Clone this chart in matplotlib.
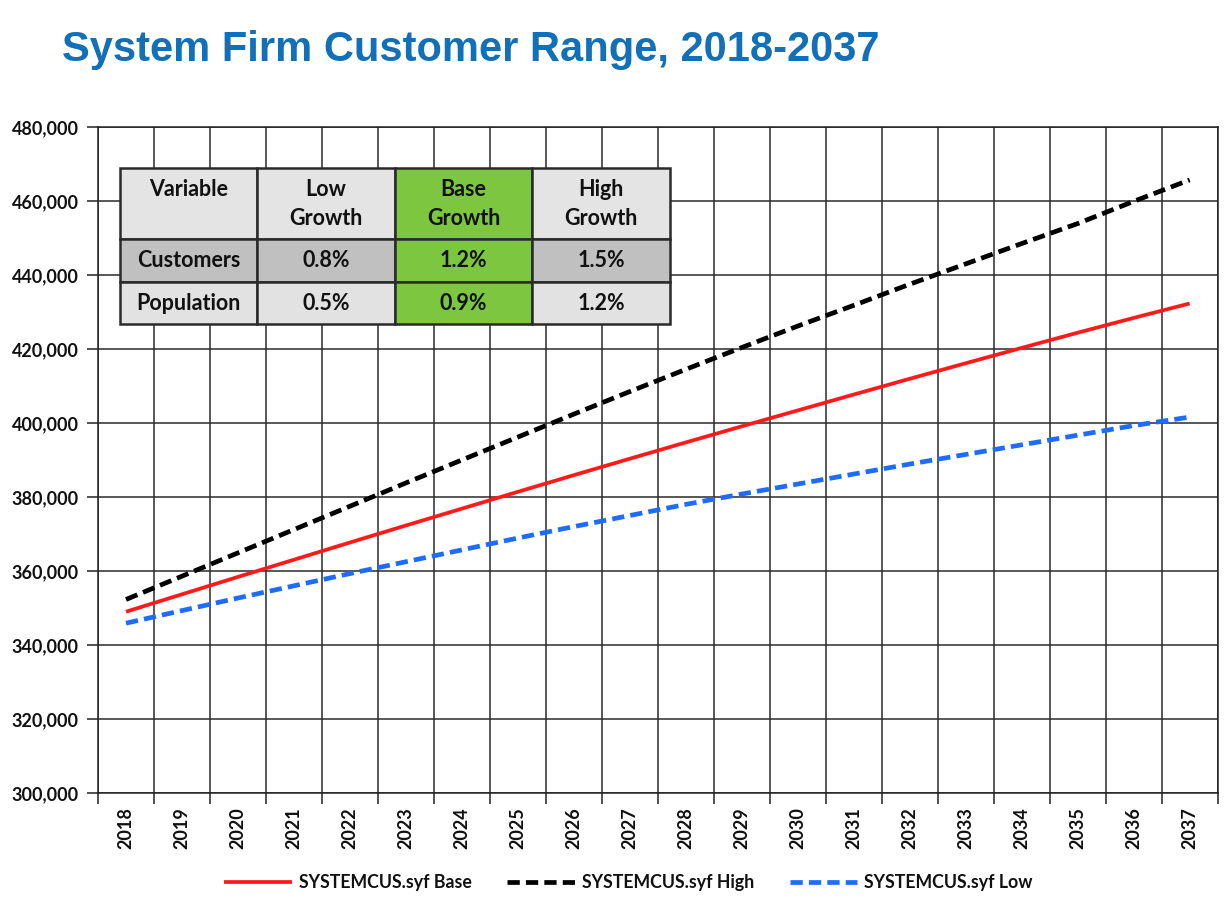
#!/usr/bin/env python3
"""System firm customer range chart, 2018-2037."""

import matplotlib
matplotlib.use("Agg")
import matplotlib.pyplot as plt
from matplotlib.ticker import FuncFormatter, MultipleLocator

years = list(range(2018, 2038))

# customers per year
base = [349000, 353700, 358400, 363050, 367700, 372300, 376850, 381400,
        385900, 390350, 394750, 399100, 403400, 407700, 411950, 416150,
        420300, 424400, 428400, 432300]
high = [352300, 358600, 364900, 371200, 377500, 383800, 390000, 396200,
        402400, 408500, 414500, 420400, 426200, 431800, 437500, 443000,
        448500, 453900, 459900, 465700]
low = [345900, 349300, 352700, 356000, 359300, 362500, 365700, 368900,
       372000, 375000, 378000, 380800, 383500, 386200, 388900, 391500,
       394100, 396700, 399300, 401600]

series_names = ["SYSTEMCUS.syf Base", "SYSTEMCUS.syf High", "SYSTEMCUS.syf Low"]

table_header = ["Variable\n", "Low\nGrowth", "Base\nGrowth", "High\nGrowth"]
table_rows = [
    ["Customers", "0.8%", "1.2%", "1.5%"],
    ["Population", "0.5%", "0.9%", "1.2%"],
]

TXT = "Lato"


def plot_range(image_name="out.png"):
    fig = plt.figure(figsize=(12.25, 9.09), dpi=100)
    ax = fig.add_axes([0.080, 0.1276, 0.914, 0.7327])

    x = list(range(len(years)))
    ax.plot(x, base, color="#ff1a1a", lw=2.7, solid_capstyle="butt",
            label=series_names[0], zorder=4)
    ax.plot(x, high, color="black", lw=3.4, dashes=(2.6, 1.3),
            label=series_names[1], zorder=4)
    ax.plot(x, low, color="#1e6cff", lw=3.4, dashes=(2.6, 1.3),
            label=series_names[2], zorder=4)

    ax.set_xlim(-0.5, len(years) - 0.5)
    ax.set_ylim(300000, 480000)
    ax.yaxis.set_major_locator(MultipleLocator(20000))
    ax.yaxis.set_major_formatter(FuncFormatter(lambda v, p: f"{int(v):,}"))

    ax.set_xticks(x)
    ax.set_xticklabels([str(y) for y in years], rotation=90)
    ax.set_xticks([i - 0.5 for i in range(len(years) + 1)], minor=True)
    ax.tick_params(axis="x", which="major", length=0, pad=10)
    ax.tick_params(axis="x", which="minor", length=8, width=1.1, color="#222222")
    ax.tick_params(axis="y", length=8, width=1.1, color="#222222", pad=6)
    for lab in ax.get_xticklabels() + ax.get_yticklabels():
        lab.set_fontfamily(TXT)
        lab.set_fontweight("bold")
        lab.set_fontsize(13)
        lab.set_color("#111111")

    ax.grid(True, axis="y", which="major", color="#2a2a2a", lw=1.1)
    ax.grid(True, axis="x", which="minor", color="#2a2a2a", lw=1.1)
    ax.grid(False, axis="x", which="major")
    ax.set_axisbelow(True)
    for s in ax.spines.values():
        s.set_color("#222222")
        s.set_linewidth(1.1)

    # growth assumptions table
    green = "#7dc63f"
    colours = [
        ["#e4e4e4", "#e4e4e4", green, "#e4e4e4"],
        ["#c0c0c0", "#c0c0c0", green, "#c0c0c0"],
        ["#e2e2e2", "#e2e2e2", green, "#e2e2e2"],
    ]
    tbl = ax.table(cellText=[table_header] + table_rows, cellColours=colours,
                   cellLoc="center", bbox=[0.0196, 0.704, 0.491, 0.234],
                   zorder=5)
    tbl.auto_set_font_size(False)
    heights = [71, 43, 42]
    for (r, c), cell in tbl.get_celld().items():
        cell.set_height(heights[r] / 156.0)
        cell.set_edgecolor("#2a2a2a")
        cell.set_linewidth(1.8)
        t = cell.get_text()
        t.set_fontfamily(TXT)
        t.set_fontweight("bold")
        t.set_fontsize(15.5)
        t.set_color("#111111")
        t.set_linespacing(1.45)

    fig.text(0.051, 0.945, "System Firm Customer Range, 2018-2037",
             fontsize=30, fontweight="bold", color="#1170b8",
             family="Liberation Sans", va="center", ha="left")

    leg = fig.legend(loc="center", bbox_to_anchor=(0.513, 0.029), ncol=3,
                     frameon=False, handlelength=3.8, columnspacing=2.0,
                     handletextpad=0.4,
                     prop={"family": TXT, "weight": "bold", "size": 12.8})
    for t in leg.get_texts():
        t.set_color("#111111")

    fig.savefig(image_name, dpi=100, facecolor="white")
    return 0


if __name__ == "__main__":
    plot_range("out.png")
